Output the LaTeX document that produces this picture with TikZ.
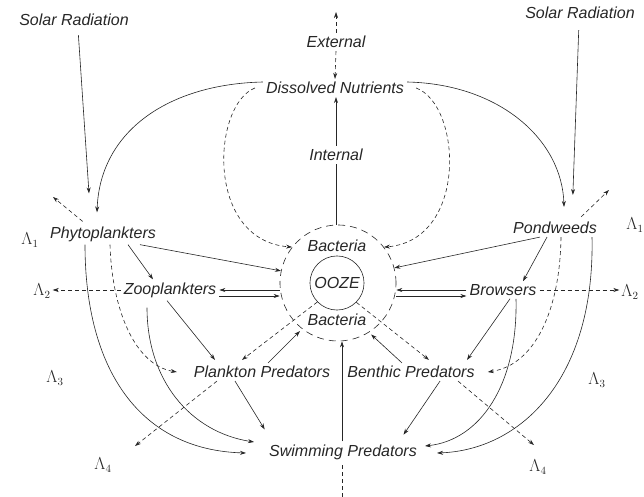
\documentclass[tikz,border=0pt]{standalone}
\usepackage{fontspec}
\setmainfont{Liberation Sans}
\usetikzlibrary{arrows.meta, calc}

\begin{document}
\begin{tikzpicture}[x=1pt, y=-1pt,
  lbl/.style={font=\fontsize{16}{19}\selectfont\itshape, text=black!85, inner sep=3pt},
  lam/.style={font=\fontsize{16}{19}\selectfont, text=black!85, inner sep=2pt},
  arr/.style={-{Stealth[length=6pt, width=4pt]}, draw=black!85, line width=0.6pt},
  darr/.style={arr, dash pattern=on 4pt off 3pt},
  link/.style={draw=black!85, line width=0.6pt}
]
\useasboundingbox (0,0) rectangle (644,497);

% compartments
\node[lbl] (solarL) at (74,20)   {Solar Radiation};
\node[lbl] (solarR) at (580,13)  {Solar Radiation};
\node[lbl] (ext)    at (336,42)  {External};
\node[lbl] (dn)     at (335,88)  {Dissolved Nutrients};
\node[lbl] (int)    at (336,155) {Internal};
\node[lbl] (phyto)  at (103,234) {Phytoplankters};
\node[lbl] (pond)   at (555,228) {Pondweeds};
\node[lbl] (zoo)    at (170,290) {Zooplankters};
\node[lbl] (brow)   at (503,290) {Browsers};
\node[lbl] (plank)  at (262,372) {Plankton Predators};
\node[lbl] (benth)  at (411,372) {Benthic Predators};
\node[lbl] (swim)   at (343,452) {Swimming Predators};

% sediment
\node[circle, draw=black!85, line width=0.6pt, dash pattern=on 7pt off 5pt, minimum size=116pt] (bact) at (338,283) {};
\node[circle, draw=black!85, line width=0.6pt, minimum size=52pt, lbl] (ooze) at (337,283) {OOZE};
\node[lbl] (bactT) at (337,246) {Bacteria};
\node[lbl] (bactB) at (337,320) {Bacteria};

% losses
\node[lam] (lamL1) at (30,240)  {$\Lambda_1$};
\node[lam] (lamR1) at (635,225) {$\Lambda_1$};
\node[lam] (lamL2) at (42,291)  {$\Lambda_2$};
\node[lam] (lamR2) at (630,292) {$\Lambda_2$};
\node[lam] (lamL3) at (55,378)  {$\Lambda_3$};
\node[lam] (lamR3) at (597,380) {$\Lambda_3$};
\node[lam] (lamL4) at (103,465) {$\Lambda_4$};
\node[lam] (lamR4) at (538,467) {$\Lambda_4$};

\coordinate (xtop) at (336,12);
\coordinate (ybot) at (342,497);
\coordinate (outL1) at (53,197);
\coordinate (outR1) at (609,190);
\coordinate (outL4) at (135,446);
\coordinate (outR4) at (534,445);

% nutrients
\draw[darr] (ext.south) -- (dn.north);
\draw[darr] (ext.north) -- (xtop);
\draw[link] (int.south) -- (int.south |- bact.north);
\draw[arr] (int.north) -- (int.north |- dn.south);
\draw[darr] ([xshift=-8pt]dn.west) .. controls (212,105) and (205,240) .. (bact.142);
\draw[darr] ([xshift=9pt]dn.east) .. controls (462,105) and (468,240) .. (bact.38);
\draw[arr] ([yshift=6pt]dn.west) .. controls (170,84) and (100,130) .. ([xshift=-6pt,yshift=11pt]phyto.north);
\draw[arr] ([yshift=6pt]dn.east) .. controls (500,84) and (562,140) .. ([xshift=9pt,yshift=12pt]pond.north);

% radiation
\draw[arr, shorten <=6pt, shorten >=30pt] ([xshift=4pt]solarL.south) -- ([xshift=-12pt]phyto.north);
\draw[arr, shorten <=8pt, shorten >=24pt] ([xshift=-1pt]solarR.south) -- ([xshift=17pt]pond.north);

% left side
\draw[darr, shorten <=3pt] ([xshift=-18pt]phyto.north) -- (outL1);
\draw[arr] ([xshift=25pt]phyto.south) -- ([xshift=-17pt]zoo.north);
\draw[arr] ([xshift=37pt]phyto.south) -- (bact.168);
\draw[arr] ([yshift=-7pt]bact.west) -- (zoo.east);
\draw[arr] ([yshift=-6pt]zoo.east) -- ([yshift=-13pt]bact.west);
\draw[darr] (zoo.west) -- (zoo.west -| lamL2.east);
\draw[arr] ([xshift=-3pt]zoo.south) -- ([xshift=-47pt,yshift=3pt]plank.north);
\draw[arr] ([xshift=-23pt,yshift=-7pt]zoo.south) .. controls (147,380) and (190,432) .. ([xshift=-12pt,yshift=10pt]swim.west);
\draw[arr] ([xshift=-18pt]phyto.south) .. controls (85,370) and (140,450) .. ([xshift=-20pt,yshift=-1pt]swim.west);
\draw[darr] ([xshift=7pt]phyto.south) .. controls (112,310) and (135,365) .. ([xshift=-14pt]plank.west);
\draw[arr, shorten >=3pt] ([xshift=6pt]plank.north) -- (bact.232);
\draw[darr] (ooze.224) -- ([xshift=-20pt,yshift=3pt]plank.north);
\draw[darr] ([xshift=-45pt]plank.south) -- (outL4);
\draw[arr, shorten >=14pt] ([xshift=-27pt]plank.south) -- ([xshift=-71pt]swim.north);

% right side
\draw[darr, shorten <=3pt] ([xshift=24pt]pond.north) -- (outR1);
\draw[arr] ([xshift=-15pt]pond.south) -- (bact.15);
\draw[arr] ([xshift=-8pt]pond.south) -- ([xshift=20pt]brow.north);
\draw[arr] (brow.west) -- ([yshift=-7pt]bact.east);
\draw[arr] ([yshift=-13pt]bact.east) -- ([yshift=-6pt]brow.west);
\draw[darr] (brow.east) -- (brow.east -| lamR2.west);
\draw[arr] ([xshift=7pt]brow.south) -- ([xshift=56pt,yshift=3pt]benth.north);
\draw[darr] ([xshift=6pt]pond.south) .. controls (560,310) and (535,365) .. ([xshift=10pt]benth.east);
\draw[arr] ([xshift=13pt]brow.south) .. controls (518,385) and (480,440) .. ([xshift=5pt,yshift=6pt]swim.east);
\draw[arr] ([xshift=37pt]pond.south) .. controls (595,380) and (520,450) .. ([xshift=17pt,yshift=-1pt]swim.east);
\draw[arr, shorten >=3pt] ([xshift=-9pt]benth.north) -- (bact.-58);
\draw[darr] (ooze.-45) -- ([xshift=18pt,yshift=3pt]benth.north);
\draw[arr, shorten >=8pt] ([xshift=29pt]benth.south) -- ([xshift=56pt]swim.north);
\draw[darr] ([xshift=47pt]benth.south) -- (outR4);

% sediment loading
\draw[arr] ([xshift=-1pt]swim.north) -- ([xshift=-1pt]swim.north |- bact.south);
\draw[link, dash pattern=on 4pt off 3pt] (ybot) -- (ybot |- swim.south);
\end{tikzpicture}
\end{document}
